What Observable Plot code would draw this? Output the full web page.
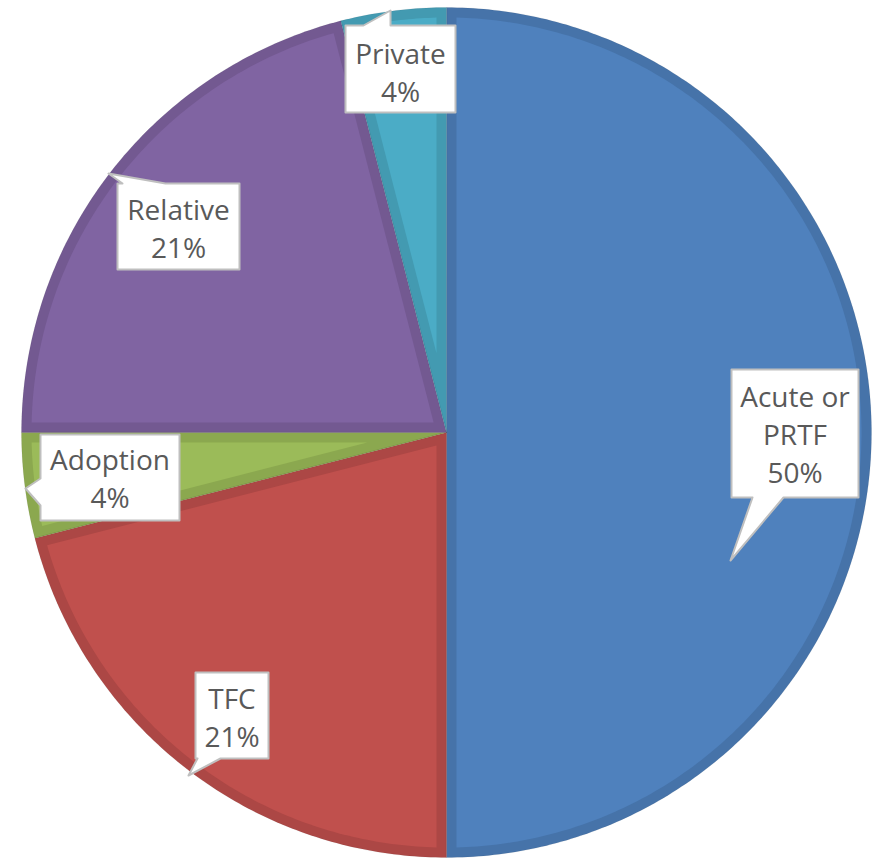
<!DOCTYPE html>
<html><head><meta charset="utf-8">
<script src="https://cdn.jsdelivr.net/npm/d3@7"></script>
<script src="https://cdn.jsdelivr.net/npm/@observablehq/plot@0.6"></script>
<style>html,body{margin:0;padding:0;background:#fff;}</style>
</head><body><div id="chart"></div>
<script>
// ---- data ----
const categories = ["Acute or PRTF", "TFC", "Adoption", "Relative", "Private"];
const values = [50, 21, 4, 21, 4];
const labelNames = ["Acute or\nPRTF", "TFC", "Adoption", "Relative", "Private"];
const colors = ["#4F81BD", "#C0504D", "#9BBB59", "#8064A2", "#4BACC6"];

// ---- layout (pixel positions of the manually placed callouts) ----
const W = 872, H = 858, CX = 446, CY = 432, R = 425, BAND = 10;
const callouts = {
  "Acute or PRTF": {box: [731, 369, 858, 497], side: "bottom", base: [752, 783], tip: [730, 560], tx: 794.5, ty: 443},
  "TFC":           {box: [195, 672, 268, 758], side: "bottom", base: [197, 220], tip: [188, 775], tx: 231.5, ty: 726},
  "Adoption":      {box: [40, 434, 179, 520],  side: "left",   base: [478, 505], tip: [25, 488],  tx: 109.5, ty: 487.5},
  "Relative":      {box: [117, 183, 239, 269], side: "top",    base: [122, 165], tip: [108, 173], tx: 178, ty: 237},
  "Private":       {box: [345, 25, 455, 112],  side: "top",    base: [363, 390], tip: [390, 10],  tx: 400, ty: 81}
};
const FS = 28;
const toX = px => px - CX, toY = py => CY - py;

// ---- slices ----
const arcs = d3.pie().sort(null).value(d => d)(values);
const outer = [], inner = [];
arcs.forEach((a, i) => {
  const key = categories[i];
  const a0 = a.startAngle, a1 = a.endAngle, th = a1 - a0;
  const n = Math.max(8, Math.ceil(th * 80));
  outer.push({key, x: 0, y: 0});
  for (let k = 0; k <= n; k++) {
    const t = a0 + th * k / n;
    outer.push({key, x: R * Math.sin(t), y: R * Math.cos(t)});
  }
  const Ri = R - BAND, dl = Math.asin(BAND / Ri);
  const b0 = a0 + dl, b1 = a1 - dl;
  const apexD = BAND / Math.sin(th / 2), bis = (a0 + a1) / 2;
  inner.push({key, x: apexD * Math.sin(bis), y: apexD * Math.cos(bis)});
  for (let k = 0; k <= n; k++) {
    const t = b0 + (b1 - b0) * k / n;
    inner.push({key, x: Ri * Math.sin(t), y: Ri * Math.cos(t)});
  }
});

// ---- callout polygons ----
const calloutPts = [];
const labels = [];
categories.forEach((key, i) => {
  const c = callouts[key];
  const [x0, y0, x1, y1] = c.box;
  const P = [];
  P.push([x0, y0]);
  if (c.side === "top") P.push([c.base[0], y0], c.tip, [c.base[1], y0]);
  P.push([x1, y0]);
  P.push([x1, y1]);
  if (c.side === "bottom") P.push([c.base[1], y1], c.tip, [c.base[0], y1]);
  P.push([x0, y1]);
  if (c.side === "left") P.push([x0, c.base[1]], c.tip, [x0, c.base[0]]);
  P.forEach(([px, py]) => calloutPts.push({key, x: toX(px), y: toY(py)}));
  labels.push({key, x: toX(c.tx), y: toY(c.ty - 0.32 * FS - 2), text: labelNames[i] + "\n" + values[i] + "%"});
});

const chart = Plot.plot({
  width: W, height: H,
  marginLeft: CX - R, marginRight: W - CX - R, marginTop: CY - R, marginBottom: H - CY - R,
  x: {domain: [-R, R], axis: null},
  y: {domain: [-R, R], axis: null},
  color: {domain: categories, range: colors},
  style: {background: "#fff", overflow: "visible"},
  marks: [
    Plot.line(outer, {x: "x", y: "y", z: "key", fill: "key", stroke: null, curve: "linear-closed"}),
    Plot.line(outer, {x: "x", y: "y", z: "key", fill: "#000", fillOpacity: 0.1, stroke: "#000", strokeOpacity: 0.06, strokeWidth: 1, curve: "linear-closed"}),
    Plot.line(inner, {x: "x", y: "y", z: "key", fill: "key", stroke: null, curve: "linear-closed"}),
    Plot.line(calloutPts, {x: "x", y: "y", z: "key", fill: "#fff", stroke: "#BFBFBF", strokeWidth: 2, curve: "linear-closed"}),
    Plot.text(labels, {x: "x", y: "y", text: "text", fill: "#595959", fontSize: FS, fontFamily: "Open Sans", lineHeight: 38 / FS, textAnchor: "middle", lineAnchor: "middle"})
  ]
});
document.getElementById("chart").appendChild(chart);
</script>
</body></html>
